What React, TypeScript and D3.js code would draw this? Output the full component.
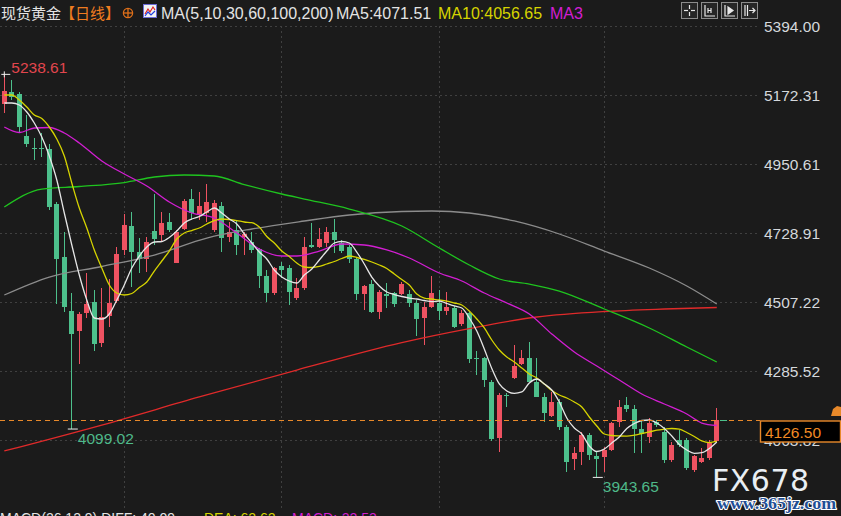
import * as d3 from "d3";

// 现货黄金 日线 — 96 daily candles, prices
const DAYS = d3.range(96);

const OPEN = [
  5142, 5183, 5175, 5040, 5003, 5003, 4999, 4822, 4653, 4479, 4415, 4473, 4508, 4374, 4462, 4510,
  4674, 4752, 4669, 4644, 4736, 4722, 4765, 4633, 4742, 4837, 4790, 4792, 4738, 4817, 4717, 4738,
  4716, 4701, 4677, 4591, 4537, 4624, 4616, 4519, 4551, 4690, 4683, 4696, 4731, 4696, 4685, 4644,
  4533, 4565, 4476, 4533, 4535, 4533, 4533, 4505, 4455, 4492, 4505, 4479, 4488, 4436, 4471, 4327,
  4327, 4251, 4069, 4210, 4262, 4308, 4326, 4251, 4203, 4141, 4187, 4107, 4002, 4026, 4080, 4012,
  4010, 4032, 4123, 4176, 4163, 4098, 4074, 4123, 4091, 4000, 4064, 4064, 3967, 3994, 4005, 4061,
];
const HIGH = [
  5238.61, 5220, 5183, 5108, 5034, 5050, 5015, 4830, 4733, 4536, 4476, 4600, 4546, 4552, 4581, 4685,
  4790, 4797, 4713, 4716, 4854, 4796, 4793, 4738, 4838, 4870, 4860, 4886, 4835, 4830, 4765, 4771,
  4733, 4733, 4680, 4610, 4621, 4635, 4626, 4584, 4717, 4761, 4745, 4749, 4774, 4706, 4690, 4653,
  4562, 4578, 4546, 4568, 4540, 4572, 4546, 4514, 4508, 4591, 4546, 4540, 4494, 4482, 4476, 4350,
  4331, 4257, 4216, 4216, 4369, 4353, 4380, 4327, 4215, 4219, 4196, 4112, 4042, 4091, 4085, 4026,
  4042, 4123, 4192, 4203, 4176, 4128, 4134, 4128, 4107, 4058, 4096, 4069, 4016, 4037, 4064, 4166,
];
const LOW = [
  5115, 5156, 5054, 5006, 4963, 4973, 4803, 4501, 4476, 4099.02, 4308, 4456, 4351, 4364, 4427, 4504,
  4658, 4556, 4601, 4605, 4690, 4701, 4733, 4632, 4738, 4771, 4770, 4765, 4732, 4669, 4701, 4658,
  4658, 4665, 4552, 4508, 4530, 4585, 4498, 4514, 4546, 4681, 4680, 4685, 4665, 4664, 4633, 4514,
  4482, 4471, 4453, 4488, 4492, 4530, 4492, 4398, 4369, 4488, 4449, 4465, 4424, 4430, 4312, 4273,
  4235, 4061, 4026, 4171, 4260, 4305, 4249, 4201, 4122, 4139, 4096, 3962, 3967, 3984, 4000, 3943.65,
  3962, 4030, 4107, 4155, 4021, 4021, 4053, 4107, 3989, 3994, 4042, 3967, 3962, 3989, 4000, 4058,
];
const CLOSE = [
  5186, 5167, 5070, 5015, 5001, 5000, 4813, 4645, 4492, 4403, 4469, 4501, 4372, 4460, 4504, 4661,
  4755, 4669, 4644, 4701, 4710, 4762, 4738, 4732, 4833, 4793, 4815, 4830, 4825, 4714, 4733, 4690,
  4726, 4674, 4591, 4537, 4617, 4610, 4539, 4552, 4685, 4683, 4710, 4733, 4706, 4672, 4644, 4533,
  4559, 4476, 4540, 4527, 4500, 4565, 4505, 4452, 4492, 4535, 4479, 4491, 4428, 4473, 4323, 4323,
  4257, 4066, 4208, 4207, 4302, 4326, 4251, 4203, 4150, 4187, 4107, 3994, 4021, 4080, 4016, 4002,
  4032, 4118, 4171, 4163, 4098, 4083, 4118, 4112, 4000, 4048, 4048, 3973, 4012, 4005, 4053, 4126.5,
];

// moving averages as drawn, [day, value]
const MA5: [number, number][] = [
  [0, 5146.6], [1, 5146.6], [2, 5140.1], [3, 5117.7], [4, 5082.3], [5, 5037.3], [6, 4976.3], [7, 4899.2],
  [8, 4793.2], [9, 4690.3], [10, 4594], [11, 4513.6], [12, 4455.8], [13, 4452.6], [14, 4468.6], [15, 4513.6],
  [16, 4561.8], [17, 4616.4], [18, 4655], [19, 4684], [20, 4700], [21, 4701.6], [22, 4714.5], [23, 4735.3],
  [24, 4761], [25, 4773.9], [26, 4781.9], [27, 4796.4], [28, 4809.2], [29, 4793.2], [30, 4773.9], [31, 4757.8],
  [32, 4725.7], [33, 4696.8], [34, 4667.8], [35, 4645.4], [36, 4610], [37, 4587.5], [38, 4574.7], [39, 4568.2],
  [40, 4594], [41, 4613.2], [42, 4642.1], [43, 4671], [44, 4696.8], [45, 4701.6], [46, 4696.8], [47, 4667.8],
  [48, 4629.3], [49, 4587.5], [50, 4558.6], [51, 4539.3], [52, 4531.3], [53, 4524.9], [54, 4520], [55, 4516.8],
  [56, 4512], [57, 4508.2], [58, 4510.4], [59, 4502.4], [60, 4494.4], [61, 4488], [62, 4455.8], [63, 4414],
  [64, 4356.2], [65, 4293.5], [66, 4243.8], [67, 4221.3], [68, 4213.9], [69, 4218.1], [70, 4247], [71, 4259.8],
  [72, 4243.8], [73, 4224.5], [74, 4186], [75, 4134.5], [76, 4102.4], [77, 4083.1], [78, 4044.6], [79, 4026.9],
  [80, 4034.9], [81, 4054.2], [82, 4073.5], [83, 4100.8], [84, 4116.9], [85, 4126.5], [86, 4128.1], [87, 4118.4],
  [88, 4100.8], [89, 4076.7], [90, 4049.4], [91, 4031.7], [92, 4021.1], [93, 4023], [94, 4036.5], [95, 4057.4],
];
const MA10: [number, number][] = [
  [0, 5172.3], [1, 5172.3], [2, 5156.2], [3, 5133.7], [4, 5108], [5, 5096.8], [6, 5069.5], [7, 5030.9],
  [8, 4976.3], [9, 4889.5], [10, 4809.2], [11, 4745], [12, 4674.3], [13, 4616.4], [14, 4561.8], [15, 4536.1],
  [16, 4529.7], [17, 4534.5], [18, 4553.8], [19, 4571.5], [20, 4606.8], [21, 4638.9], [22, 4671], [23, 4709.6],
  [24, 4728.9], [25, 4736.9], [26, 4745], [27, 4757.8], [28, 4769], [29, 4773.9], [30, 4772.3], [31, 4769],
  [32, 4764.3], [33, 4762], [34, 4748.2], [35, 4717.6], [36, 4696.8], [37, 4671], [38, 4653.4], [39, 4632.5],
  [40, 4619.7], [41, 4618], [42, 4621.3], [43, 4629.3], [44, 4637.3], [45, 4647], [46, 4655], [47, 4650.2],
  [48, 4643.8], [49, 4635.7], [50, 4626.1], [51, 4614.8], [52, 4597.2], [53, 4579.5], [54, 4561.8], [55, 4532.9],
  [56, 4520], [57, 4516.8], [58, 4513.6], [59, 4509.8], [60, 4504], [61, 4497.6], [62, 4478.3], [63, 4452.6],
  [64, 4423.7], [65, 4385.1], [66, 4353], [67, 4330.5], [68, 4314.5], [69, 4295.2], [70, 4275.9], [71, 4263],
  [72, 4243.8], [73, 4222.9], [74, 4208.4], [75, 4198.8], [76, 4186], [77, 4169.9], [78, 4137.7], [79, 4108.8],
  [80, 4083.1], [81, 4078.3], [82, 4076.7], [83, 4076.2], [84, 4079.4], [85, 4084.7], [86, 4089.9], [87, 4095.3],
  [88, 4098.5], [89, 4100.8], [90, 4098.5], [91, 4087.8], [92, 4075], [93, 4060.8], [94, 4055.7], [95, 4059.9],
];
const MA30: [number, number][] = [
  [0, 5069.5], [2, 5051.8], [4, 5066.3], [6, 5067.9], [8, 5050.2], [10, 5018.1], [13, 4960.3], [16, 4918.4],
  [19, 4879.9], [22, 4828.5], [25, 4793.2], [28, 4777.1], [31, 4728.9], [34, 4677.5], [37, 4655], [39, 4655],
  [42, 4671], [45, 4693.5], [48, 4690.3], [51, 4674.3], [54, 4648.6], [58, 4600.4], [61, 4574.7], [64, 4536.1],
  [67, 4504], [70, 4468.6], [73, 4404.4], [76, 4346.5], [79, 4301.6], [82, 4256.6], [85, 4211.6], [88, 4179.5],
  [91, 4147.4], [93, 4118.4], [95, 4110.4],
];
const MA60: [number, number][] = [
  [0, 4812.5], [5, 4870.2], [10, 4878.3], [16, 4891.1], [20, 4908.8], [24, 4915.2], [28, 4912], [32, 4884.7],
  [37, 4854.2], [40, 4838.1], [46, 4806], [53, 4751.4], [58, 4680.7], [62, 4626.1], [66, 4581.1], [70, 4565],
  [74, 4542.5], [80, 4484.7], [86, 4423.7], [91, 4362.6], [95, 4314.5],
];
const MA100: [number, number][] = [
  [0, 4529.7], [6, 4587.5], [13, 4621.3], [20, 4658.2], [27, 4712.8], [33, 4741.8], [40, 4767.5], [46, 4786.7],
  [53, 4798], [57, 4799.6], [62, 4793.2], [68, 4767.5], [74, 4725.7], [80, 4671], [86, 4616.4], [91, 4558.6],
  [95, 4500.8],
];
const MA200: [number, number][] = [
  [0, 4028.5], [13, 4112], [26, 4202], [39, 4288.7], [53, 4377], [62, 4422], [71, 4459], [80, 4476.7],
  [88, 4484.7], [95, 4489.5],
];

const PRICE_TICKS = [5394.0, 5172.31, 4950.61, 4728.91, 4507.22, 4285.52, 4063.82];
const MONTH_STARTS = [16, 37, 58, 80];
const LAST_PRICE = 4126.5;
const MAX_DAY = 0;
const MIN_DAYS = [9, 79];

const BG = "#1b1b1b";
const UP = "#ee5261";
const DOWN = "#4dc08c";
const GRID = "#404040";
const LATIN = "'Liberation Sans', Arial, sans-serif";
const CJK = "'Noto Sans CJK SC', sans-serif";

const MA_LINES: { data: [number, number][]; color: string }[] = [
  { data: MA200, color: "#e02a2a" },
  { data: MA100, color: "#8c8c8c" },
  { data: MA60, color: "#1fc41f" },
  { data: MA30, color: "#d21ed2" },
  { data: MA10, color: "#d6d400" },
  { data: MA5, color: "#e6e6e6" },
];

function ToolButton({ x, children }: { x: number; children: any }) {
  return (
    <g transform={`translate(${x},2)`}>
      <rect x={0.5} y={0.5} width={16} height={16} fill="#262626" stroke="#8c8c8c" />
      <g stroke="#e8e8e8" fill="none" strokeWidth={1.2}>
        {children}
      </g>
    </g>
  );
}

export default function App() {
  const W = 841;
  const H = 516;
  const x = d3.scaleBand<number>().domain(DAYS).range([0.55, 720.55]);
  const y = d3.scaleLinear().domain([4063.82, 5394.0]).range([440, 26]);
  const cx = (i: number) => (x(i) ?? 0) + x.bandwidth() / 2;
  const fmt = d3.format(".2f");
  const line = d3
    .line<[number, number]>()
    .x((d) => cx(d[0]))
    .y((d) => y(d[1]))
    .curve(d3.curveMonotoneX);

  const plotRight = 758;
  const lastY = Math.round(y(LAST_PRICE)) + 0.5;

  return (
    <svg
      width={W}
      height={H}
      style={{ position: "absolute", left: 0, top: 0, background: BG }}
    >
      <rect width={W} height={H} fill={BG} />

      {/* grid */}
      <g stroke={GRID} strokeWidth={1} strokeDasharray="2,3">
        {PRICE_TICKS.map((t) => (
          <line key={t} x1={0} x2={plotRight} y1={Math.round(y(t)) + 0.5} y2={Math.round(y(t)) + 0.5} />
        ))}
        {MONTH_STARTS.map((d) => (
          <line key={d} x1={Math.floor(cx(d)) + 0.5} x2={Math.floor(cx(d)) + 0.5} y1={26} y2={508} />
        ))}
      </g>

      {/* candles */}
      <g shapeRendering="crispEdges">
        {DAYS.map((i) => {
          const up = CLOSE[i] >= OPEN[i];
          const col = up ? UP : DOWN;
          const px = Math.floor(cx(i));
          const yt = y(Math.max(OPEN[i], CLOSE[i]));
          const yb = y(Math.min(OPEN[i], CLOSE[i]));
          return (
            <g key={i}>
              <line x1={px + 0.5} x2={px + 0.5} y1={y(HIGH[i])} y2={y(LOW[i])} stroke={col} />
              <rect x={px - 2} y={yt} width={5} height={Math.max(1, yb - yt)} fill={col} />
            </g>
          );
        })}
      </g>

      {/* moving averages */}
      {MA_LINES.map((m, k) => (
        <path key={k} d={line(m.data) ?? ""} fill="none" stroke={m.color} strokeWidth={1.3} />
      ))}

      {/* last price line */}
      <line x1={0} x2={760} y1={lastY} y2={lastY} stroke="#e8892a" strokeDasharray="5,4" />
      <line x1={720} x2={727} y1={lastY} y2={lastY} stroke={DOWN} />

      {/* extreme markers */}
      <g stroke="#f0f0f0" strokeWidth={1}>
        <line x1={cx(MAX_DAY) - 3} x2={cx(MAX_DAY) + 6} y1={y(HIGH[MAX_DAY])} y2={y(HIGH[MAX_DAY])} />
        <line x1={cx(MAX_DAY)} x2={cx(MAX_DAY)} y1={y(HIGH[MAX_DAY]) - 3} y2={y(HIGH[MAX_DAY]) + 3} />
        {MIN_DAYS.map((d) => (
          <line key={d} x1={cx(d) - 4} x2={cx(d) + 6} y1={y(LOW[d])} y2={y(LOW[d])} />
        ))}
      </g>
      <g fontFamily={LATIN} fontSize={15.5}>
        <text x={cx(MAX_DAY) + 7} y={y(HIGH[MAX_DAY]) - 1.5} fill="#e2464e">
          {fmt(HIGH[MAX_DAY])}
        </text>
        {MIN_DAYS.map((d) => (
          <text key={d} x={cx(d) + 6} y={y(LOW[d]) + 15} fill="#4fb98a">
            {fmt(LOW[d])}
          </text>
        ))}
      </g>

      {/* right axis */}
      <g fontFamily={LATIN} fontSize={15.5} fill="#d4d8dc">
        {PRICE_TICKS.map((t) => (
          <text key={t} x={764} y={y(t) + 6}>
            {fmt(t)}
          </text>
        ))}
      </g>
      <rect x={760.5} y={lastY + 0.5} width={80} height={21} fill="#000" stroke="#e8892a" strokeWidth={1.4} />
      <text x={765} y={lastY + 17} fontFamily={LATIN} fontSize={15.5} fill="#f28a24">
        {fmt(LAST_PRICE)}
      </text>
      <path d="M831 416 L833 409 L837 406 L841 407 L841 416 Z" fill="#e8892a" />

      {/* header */}
      <text y={19} fontSize={15}>
        <tspan x={1} fontFamily={CJK} fill="#e4e4e4">现货黄金</tspan>
        <tspan x={60} fontFamily={CJK} fill="#ef7b20">【日线】</tspan>
      </text>
      <g stroke="#e0701a" strokeWidth={1.3} fill="none">
        <circle cx={128} cy={13} r={4.6} />
        <line x1={123.4} x2={132.6} y1={13} y2={13} />
        <line x1={128} x2={128} y1={8.4} y2={17.6} />
      </g>
      <g>
        <rect x={143.5} y={4.5} width={13} height={13} fill="#f4f4f4" stroke="#6b6bd6" />
        <polyline points="145,14 148,9 150,12 153,7 155,10" fill="none" stroke="#e02020" strokeWidth={1.2} />
        <polyline points="145,16 148,12 151,15 155,11" fill="none" stroke="#2040e0" strokeWidth={1.2} />
      </g>
      <text y={19} fontSize={16} fontFamily={LATIN}>
        <tspan x={161} fill="#e4e4e4">MA(5,10,30,60,100,200)</tspan>
        <tspan x={336} fill="#e4e4e4">MA5:4071.51</tspan>
        <tspan x={438} fill="#d6d400">MA10:4056.65</tspan>
        <tspan x={550} fill="#d21ed2">MA3</tspan>
      </text>

      {/* toolbar */}
      <ToolButton x={681}>
        <line x1={8.5} x2={8.5} y1={3} y2={7} />
        <line x1={8.5} x2={8.5} y1={10} y2={14} />
        <line x1={3} x2={7} y1={8.5} y2={8.5} />
        <line x1={10} x2={14} y1={8.5} y2={8.5} />
      </ToolButton>
      <ToolButton x={701}>
        <path d="M4 3 V14 H14" />
        <path d="M7 6 V11 M7 8.5 H10 M10 6 V11" />
      </ToolButton>
      <ToolButton x={721}>
        <path d="M4 3 V14 H14" />
        <path d="M7 5 L12 8.5 L7 12 Z" fill="#e8e8e8" />
      </ToolButton>
      <ToolButton x={741}>
        <path d="M4 3 V14 M6.5 3 V14" />
        <path d="M8 8.5 H14 M11.5 6 L14 8.5 L11.5 11" />
      </ToolButton>

      {/* watermark */}
      <text x={712} y={491} fontFamily="'DejaVu Sans', sans-serif" fontSize={30} fill="#e9eef3" letterSpacing={0.5}>
        FX678
      </text>
      <text
        x={717}
        y={509}
        fontFamily="'Liberation Serif', serif"
        fontWeight="bold"
        fontSize={16}
        textLength={119}
        lengthAdjust="spacingAndGlyphs"
        fill="#1f4f96"
        stroke="#ffffff"
        strokeWidth={2}
        paintOrder="stroke"
      >
        www.365jz.com
      </text>

      {/* indicator caption, cut by the frame */}
      <text y={523} fontSize={14} fontFamily={LATIN}>
        <tspan x={0} fill="#e4e4e4">MACD(26,12,9) DIFF: 40.09</tspan>
        <tspan x={204} fill="#d6d400">DEA: 62.62</tspan>
        <tspan x={292} fill="#d21ed2">MACD:-22.53</tspan>
      </text>
    </svg>
  );
}
